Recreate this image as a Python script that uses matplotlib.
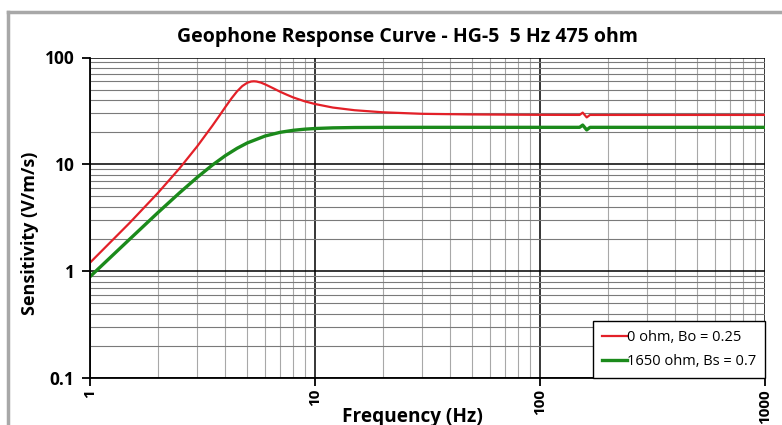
import matplotlib
matplotlib.use("Agg")
import matplotlib.pyplot as plt
from matplotlib.ticker import LogLocator, NullFormatter
from matplotlib.lines import Line2D

plt.rcParams['font.family'] = ['Open Sans', 'DejaVu Sans']

# Data
freq_red = [1, 1.5, 2, 2.5, 3, 3.5, 3.75, 4, 4.25, 4.5, 4.75, 5, 5.2, 5.35, 5.5, 5.75, 6,
            6.5, 7, 7.5, 8, 9, 10, 12, 15, 20, 30, 50, 100, 150, 154.8, 161.3, 166.8,
            200, 500, 1000]
sens_red = [1.20, 2.83, 5.37, 9.17, 14.8, 23.0, 28.3, 34.5, 41.3, 48.1, 54.0, 58.0, 59.6,
            59.9, 59.6, 58.2, 56.1, 51.7, 47.8, 44.8, 42.3, 38.9, 36.7, 34.0, 32.1, 30.7,
            29.7, 29.3, 29.06, 29.0, 30.5, 27.5, 29.0, 29.0, 29.0, 29.0]

freq_green = [1, 1.5, 2, 2.5, 3, 3.5, 4, 4.5, 5, 6, 7, 8, 9, 10, 12, 15, 20, 30, 50,
              100, 150, 154.8, 161.3, 166.8, 200, 500, 1000]
sens_green = [0.888, 1.99, 3.52, 5.41, 7.57, 9.85, 12.08, 14.11, 15.86, 18.41, 19.94,
              20.82, 21.33, 21.64, 21.95, 22.11, 22.18, 22.2, 22.2, 22.2, 22.2, 23.3,
              21.0, 22.2, 22.2, 22.2, 22.2]

labels = ["0 ohm, Bo = 0.25", "1650 ohm, Bs = 0.7"]
x_ticks = [1, 10, 100, 1000]
x_ticklabels = ["1", "10", "100", "1000"]
y_ticks = [0.1, 1, 10, 100]
y_ticklabels = ["0.1", "1", "10", "100"]

W, H = 782, 425
fig = plt.figure(figsize=(W / 100, H / 100), dpi=100)
fig.patch.set_facecolor('white')

# chart frame (Excel style border)
fig.add_artist(Line2D([8 / W, 8 / W], [0, 1 - 12 / H], transform=fig.transFigure,
                      color='#a8a8a8', lw=2.5))
fig.add_artist(Line2D([8 / W, 1], [1 - 12 / H, 1 - 12 / H], transform=fig.transFigure,
                      color='#a8a8a8', lw=2.5))

ax = fig.add_axes([90 / W, 1 - 378 / H, (765 - 90) / W, (378 - 57.5) / H])
ax.set_xscale('log')
ax.set_yscale('log')
ax.set_xlim(1, 1000)
ax.set_ylim(0.1, 100)

ax.xaxis.set_minor_locator(LogLocator(base=10, subs=range(2, 10)))
ax.yaxis.set_minor_locator(LogLocator(base=10, subs=range(2, 10)))
ax.xaxis.set_minor_formatter(NullFormatter())
ax.yaxis.set_minor_formatter(NullFormatter())
ax.set_xticks(x_ticks)
ax.set_xticklabels(x_ticklabels, rotation=90, fontweight='bold', fontsize=11)
ax.set_yticks(y_ticks)
ax.set_yticklabels(y_ticklabels, fontweight='bold', fontsize=12.5)
ax.tick_params(which='major', direction='out', length=6, width=1.3, color='black')
ax.tick_params(axis='y', which='major', pad=5)
ax.tick_params(axis='x', which='major', pad=2)
ax.tick_params(which='minor', length=0)

ax.grid(which='major', color='black', lw=1.1)
ax.grid(which='minor', axis='y', color='#7a7a7a', lw=0.8)
ax.grid(which='minor', axis='x', color='#a8a8a8', lw=0.8)
ax.set_axisbelow(True)
for side in ['top', 'right']:
    ax.spines[side].set_visible(False)
for side in ['left', 'bottom']:
    ax.spines[side].set_linewidth(1.3)

ax.plot(freq_red, sens_red, color='#e32028', lw=1.6, label=labels[0])
ax.plot(freq_green, sens_green, color='#1b8a1b', lw=2.4, label=labels[1])

leg = ax.legend(loc='lower right', borderaxespad=0, fancybox=False, framealpha=1,
                edgecolor='black', fontsize=10.5, handlelength=1.7, handletextpad=0.0,
                labelspacing=0.65, borderpad=0.6)
leg.get_frame().set_linewidth(1.0)

fig.text(407 / W, 1 - 37 / H, "Geophone Response Curve - HG-5  5 Hz 475 ohm",
         ha='center', va='center', fontsize=14, fontweight='bold')
fig.text(30 / W, 1 - 233 / H, "Sensitivity (V/m/s)", rotation=90, ha='center',
         va='center', fontsize=13, fontweight='bold')
fig.text(412 / W, 1 - 417 / H, "Frequency (Hz)", ha='center', va='center',
         fontsize=13.7, fontweight='bold')

fig.savefig('out.png', dpi=100)
